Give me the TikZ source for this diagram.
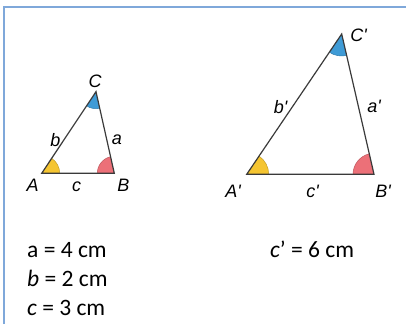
\documentclass[tikz,border=0pt]{standalone}
\usepackage{fontspec}
\setmainfont{Carlito}
\newfontfamily\labelfont{Liberation Sans}
\usetikzlibrary{angles}
\definecolor{rahmen}{HTML}{7FA8DA}
\definecolor{kante}{HTML}{3A3A3A}
\definecolor{gelb}{HTML}{F5C531}
\definecolor{rot}{HTML}{EC7078}
\definecolor{blau}{HTML}{3F9BD6}
\tikzset{
    seite/.style    = {draw=kante, line width=1.2pt, line join=miter},
    winkel/.style   = {draw=#1!80!black, line width=0.5pt, fill=#1},
    ecke/.style     = {font=\labelfont\itshape\fontsize{18}{18}\selectfont, inner sep=0pt},
    angabe/.style   = {font=\fontsize{23.5}{26}\selectfont, anchor=base west, inner sep=0pt}
}

\begin{document}
\begin{tikzpicture}[x=1pt, y=1pt]
    \useasboundingbox (0,0) rectangle (406,324);
    \draw[rahmen, line width=1.2pt] (4,0) -- (4,317) -- (406,317);

    % --- kleines Dreieck ---
    \coordinate (A) at (41.7,150.7);
    \coordinate (B) at (114.3,150.7);
    \coordinate (C) at (96,232.3);
    \pic[winkel=gelb, angle radius=18pt] {angle=B--A--C};
    \pic[winkel=rot,  angle radius=17pt] {angle=C--B--A};
    \pic[winkel=blau, angle radius=17pt] {angle=A--C--B};
    \draw[seite] (A) -- (B) -- (C) -- cycle;

    \node[ecke] (lA) at (32.7,139) {A};
    \node[ecke] (lB) at (123.5,138.5) {B};
    \node[ecke] (lC) at (95,242.5) {C};
    \node[ecke] (la) at (117,184) {a};
    \node[ecke] (lb) at (55.5,184) {b};
    \node[ecke] (lc) at (76.7,137.5) {c};

    % --- grosses Dreieck ---
    \coordinate (A') at (246.7,149.7);
    \coordinate (B') at (374,149.7);
    \coordinate (C') at (341.7,290);
    \pic[winkel=gelb, angle radius=22pt] {angle=B'--A'--C'};
    \pic[winkel=rot,  angle radius=21pt] {angle=C'--B'--A'};
    \pic[winkel=blau, angle radius=22pt] {angle=A'--C'--B'};
    \draw[seite] (A') -- (B') -- (C') -- cycle;

    \node[ecke] (lA') at (233,132.3) {A'};
    \node[ecke] (lB') at (383,132.3) {B'};
    \node[ecke] (lC') at (358.5,289) {C'};
    \node[ecke] (la') at (374,217.3) {a'};
    \node[ecke] (lb') at (280.5,217.3) {b'};
    \node[ecke] (lc') at (312.5,132.3) {c'};

    % --- Angaben ---
    \node[angabe] (ta) at (27,67) {a = 4 cm};
    \node[angabe] (tb) at (27,38) {\textit{b} = 2 cm};
    \node[angabe] (tc) at (27,9) {\textit{c} = 3 cm};
    \node[angabe] (tc') at (270,67) {\textit{c}’ = 6 cm};
\end{tikzpicture}
\end{document}
